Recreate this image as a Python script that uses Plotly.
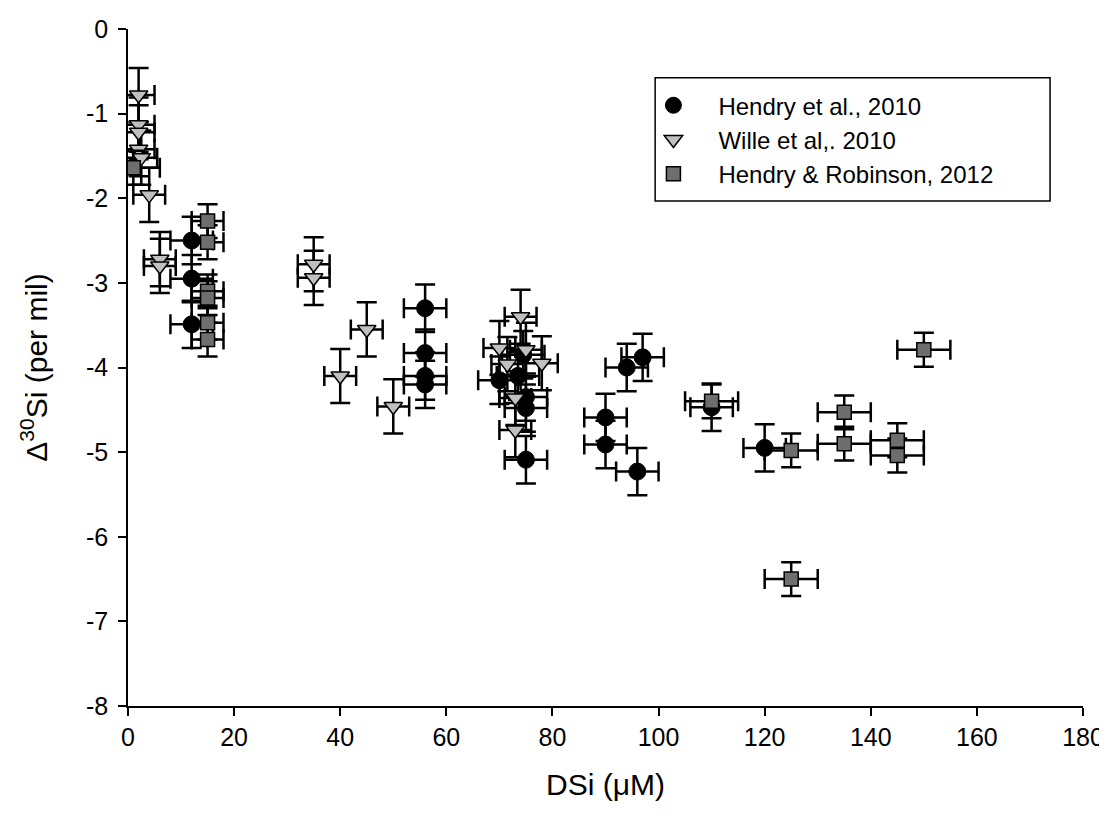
import plotly.graph_objects as go

# Hendry et al., 2010 (circles)
h10_x = [12, 12, 12, 56, 56, 56, 56, 70, 74.5, 73.5, 75, 75, 75, 90, 90, 96, 94, 97, 110, 120]
h10_y = [-2.50, -2.95, -3.49, -3.30, -3.83, -4.10, -4.20, -4.15, -3.85, -4.10, -4.35, -4.48, -5.09,
         -4.59, -4.91, -5.23, -4.00, -3.88, -4.47, -4.95]
h10_xerr = [4] * len(h10_x)
h10_yerr = [0.28] * len(h10_x)

# Wille et al., 2010 (triangles)
w10_x = [2, 2, 2, 2, 2.5, 4, 6, 6, 35, 35, 40, 45, 50, 70, 71.5, 74, 75, 78, 73, 73]
w10_y = [-0.78, -1.13, -1.22, -1.42, -1.52, -1.96, -2.72, -2.80, -2.78, -2.94, -4.10, -3.55, -4.46,
         -3.77, -3.96, -3.40, -3.79, -3.95, -4.36, -4.74]
w10_xerr = [3] * len(w10_x)
w10_yerr = [0.32] * len(w10_x)

# Hendry & Robinson, 2012 (squares)
hr12_x = [1, 15, 15, 15, 15, 15, 15, 110, 125, 125, 135, 135, 145, 145, 150]
hr12_y = [-1.64, -2.27, -2.52, -3.10, -3.18, -3.47, -3.67, -4.40, -4.98, -6.50, -4.53, -4.90,
          -4.86, -5.04, -3.79]
hr12_xerr = [5, 3, 3, 3, 3, 3, 3, 5, 5, 5, 5, 5, 5, 5, 5]
hr12_yerr = [0.2] * len(hr12_x)

x_ticks = [0, 20, 40, 60, 80, 100, 120, 140, 160, 180]
x_ticklabels = ["0", "20", "40", "60", "80", "100", "120", "140", "160", "180"]
y_ticks = [0, -1, -2, -3, -4, -5, -6, -7, -8]
y_ticklabels = ["0", "-1", "-2", "-3", "-4", "-5", "-6", "-7", "-8"]

FONT = "Liberation Sans, Arial, sans-serif"

def err(vals):
    return dict(type="data", array=vals, visible=True, color="black", thickness=2.5, width=10)

fig = go.Figure()
fig.add_trace(go.Scatter(
    x=h10_x, y=h10_y, mode="markers", name="Hendry et al., 2010",
    marker=dict(symbol="circle", size=17, color="black", line=dict(color="black", width=1)),
    error_x=err(h10_xerr), error_y=err(h10_yerr)))
fig.add_trace(go.Scatter(
    x=w10_x, y=w10_y, mode="markers", name="Wille et al,. 2010",
    marker=dict(symbol="triangle-down", size=16, color="#c0c0c0", line=dict(color="black", width=1.5)),
    error_x=err(w10_xerr), error_y=err(w10_yerr)))
fig.add_trace(go.Scatter(
    x=hr12_x, y=hr12_y, mode="markers", name="Hendry & Robinson, 2012",
    marker=dict(symbol="square", size=14, color="#6e6e6e", line=dict(color="black", width=1.5)),
    error_x=err(hr12_xerr), error_y=err(hr12_yerr)))

fig.update_layout(
    width=1107, height=814,
    margin=dict(l=120, r=32, t=21, b=116),
    paper_bgcolor="white", plot_bgcolor="white",
    font=dict(family=FONT, color="black", size=24),
    showlegend=True,
    legend=dict(x=0.524, y=0.920, xanchor="left", yanchor="top",
                bgcolor="rgba(0,0,0,0)", borderwidth=0,
                font=dict(family=FONT, size=24, color="black"),
                itemwidth=80, tracegroupgap=0),
    shapes=[dict(type="rect", xref="paper", yref="paper",
                 x0=0.552, x1=0.9655, y0=0.746, y1=0.928,
                 line=dict(color="black", width=1.5))],
    xaxis=dict(range=[0, 180], tickvals=x_ticks, ticktext=x_ticklabels,
               showline=True, linecolor="black", linewidth=1.5,
               ticks="outside", ticklen=8, tickwidth=1.5, tickcolor="black", showgrid=False,
               zeroline=False, tickfont=dict(size=25), automargin=False,
               title=dict(text="DSi (\u03bcM)", font=dict(size=30), standoff=24)),
    yaxis=dict(range=[-8, 0], tickvals=y_ticks, ticktext=y_ticklabels,
               showline=True, linecolor="black", linewidth=1.5,
               ticks="outside", ticklen=8, tickwidth=1.5, tickcolor="black", showgrid=False,
               zeroline=False, tickfont=dict(size=25), automargin=False, ticklabelstandoff=5,
               title=dict(text="\u0394<sup>30</sup>Si (per mil)", font=dict(size=30), standoff=30)),
)

fig.write_html("out.html")
